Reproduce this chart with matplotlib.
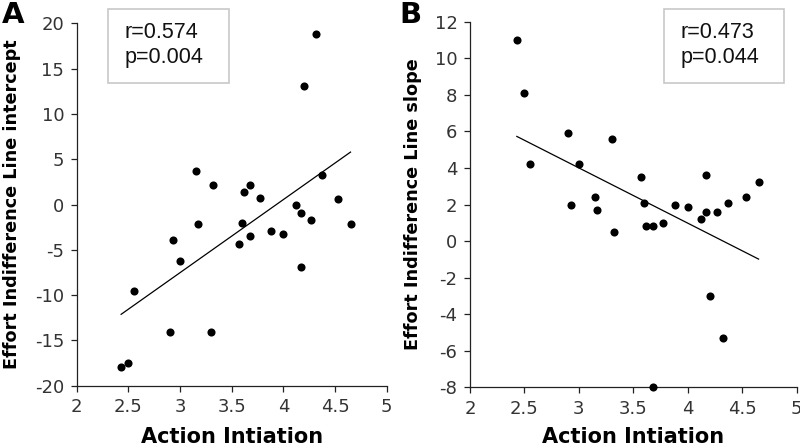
import numpy as np
import matplotlib
matplotlib.use("Agg")
import matplotlib.pyplot as plt
from matplotlib.patches import Rectangle

# Data
action_initiation = [2.43, 2.50, 2.55, 2.90, 2.93, 3.00, 3.15, 3.17, 3.30, 3.32,
                     3.57, 3.60, 3.62, 3.68, 3.68, 3.77, 3.88, 4.00, 4.12, 4.17,
                     4.17, 4.20, 4.27, 4.32, 4.37, 4.53, 4.65]
intercept = [-17.9, -17.5, -9.5, -14.1, -3.9, -6.2, 3.7, -2.2, -14.1, 2.2,
             -4.4, -2.0, 1.4, 2.2, -3.5, 0.7, -2.9, -3.3, -0.1, -0.9,
             -6.9, 13.1, -1.7, 18.8, 3.3, 0.6, -2.1]
slope_x = [2.43, 2.50, 2.55, 2.90, 2.93, 3.00, 3.15, 3.17, 3.30, 3.32,
           3.57, 3.60, 3.62, 3.68, 3.68, 3.77, 3.88, 4.00, 4.12, 4.17,
           4.17, 4.20, 4.27, 4.32, 4.37, 4.53, 4.65]
slope = [11.0, 8.1, 4.2, 5.9, 2.0, 4.2, 2.4, 1.7, 5.6, 0.5,
         3.5, 2.1, 0.8, 0.8, -8.0, 1.0, 2.0, 1.85, 1.2, 3.6,
         1.6, -3.0, 1.6, -5.3, 2.1, 2.4, 3.25]

stats_a = ["r=0.574", "p=0.004"]
stats_b = ["r=0.473", "p=0.044"]

W, H = 800, 447
fig = plt.figure(figsize=(W / 100, H / 100), dpi=100)

tick_color = "#333333"


def setup(ax, xlim, ylim, yticks):
    ax.set_xlim(*xlim)
    ax.set_ylim(*ylim)
    ax.set_xticks([2, 2.5, 3, 3.5, 4, 4.5, 5])
    ax.set_xticklabels(["2", "2.5", "3", "3.5", "4", "4.5", "5"])
    ax.set_yticks(yticks)
    ax.set_yticklabels([str(v) for v in yticks])
    for s in ("top", "right"):
        ax.spines[s].set_visible(False)
    for s in ("left", "bottom"):
        ax.spines[s].set_linewidth(0.9)
        ax.spines[s].set_color("#222222")
    ax.tick_params(direction="out", length=4, width=0.9, color="#222222",
                   labelsize=13, labelcolor=tick_color, pad=5)
    for lab in ax.get_xticklabels() + ax.get_yticklabels():
        lab.set_fontfamily("DejaVu Sans")


def px_axes(l, r, t, b):
    return [l / W, 1 - b / H, (r - l) / W, (b - t) / H]


# Panel A
axA = fig.add_axes(px_axes(76.7, 386.7, 23.3, 385.7))
setup(axA, (2, 5), (-20, 20), list(range(-20, 25, 5)))
xa = np.array(action_initiation)
ya = np.array(intercept)
axA.scatter(xa, ya, s=34, color="black", zorder=3, clip_on=False, linewidths=0)
ca = np.polyfit(xa, ya, 1)
xl = np.array([xa.min(), xa.max()])
axA.plot(xl, np.polyval(ca, xl), color="black", lw=0.9)
axA.set_xlabel("Action Intiation", fontsize=15, fontweight="bold")
axA.xaxis.set_label_coords(0.5, (385.7 - 437) / 362.4)
axA.xaxis.label.set_va("center")
axA.set_ylabel("Effort Indifference Line intercept", fontsize=12.7, fontweight="bold")
axA.yaxis.set_label_coords((12 - 76.7) / 310, 0.5)
axA.yaxis.label.set_va("center")

# Panel B
axB = fig.add_axes(px_axes(470, 796.7, 21.7, 387.3))
setup(axB, (2, 5), (-8, 12), list(range(-8, 14, 2)))
xb = np.array(slope_x)
yb = np.array(slope)
axB.scatter(xb, yb, s=34, color="black", zorder=3, clip_on=False, linewidths=0)
cb = np.polyfit(xb, yb, 1)
xl = np.array([xb.min(), xb.max()])
axB.plot(xl, np.polyval(cb, xl), color="black", lw=0.9)
axB.set_xlabel("Action Intiation", fontsize=15, fontweight="bold")
axB.xaxis.set_label_coords(0.5, (387.3 - 437) / 365.6)
axB.xaxis.label.set_va("center")
axB.set_ylabel("Effort Indifference Line slope", fontsize=12.7, fontweight="bold")
axB.yaxis.set_label_coords((413.5 - 470) / 326.7, 0.5)
axB.yaxis.label.set_va("center")

# Stats boxes
def stat_box(l, r, t, b, tx, lines):
    fig.patches.append(Rectangle((l / W, 1 - b / H), (r - l) / W, (b - t) / H,
                                 transform=fig.transFigure, facecolor="white",
                                 edgecolor="#c8c8c8", linewidth=1.2, zorder=5))
    fig.text(tx / W, 1 - 32.5 / H, lines[0], fontsize=15.5, family="Liberation Sans",
             color="#111111", va="center", ha="left", zorder=6)
    fig.text(tx / W, 1 - 58 / H, lines[1], fontsize=15.5, family="Liberation Sans",
             color="#111111", va="center", ha="left", zorder=6)

stat_box(108, 229, 9, 83, 125, stats_a)
stat_box(664, 784, 9, 83, 681, stats_b)

fig.text(2 / W, 1 - 1 / H, "A", fontsize=21, fontweight="bold", va="top", ha="left")
fig.text(399 / W, 1 - 1 / H, "B", fontsize=21, fontweight="bold", va="top", ha="left")

fig.savefig("out.png", dpi=100)
